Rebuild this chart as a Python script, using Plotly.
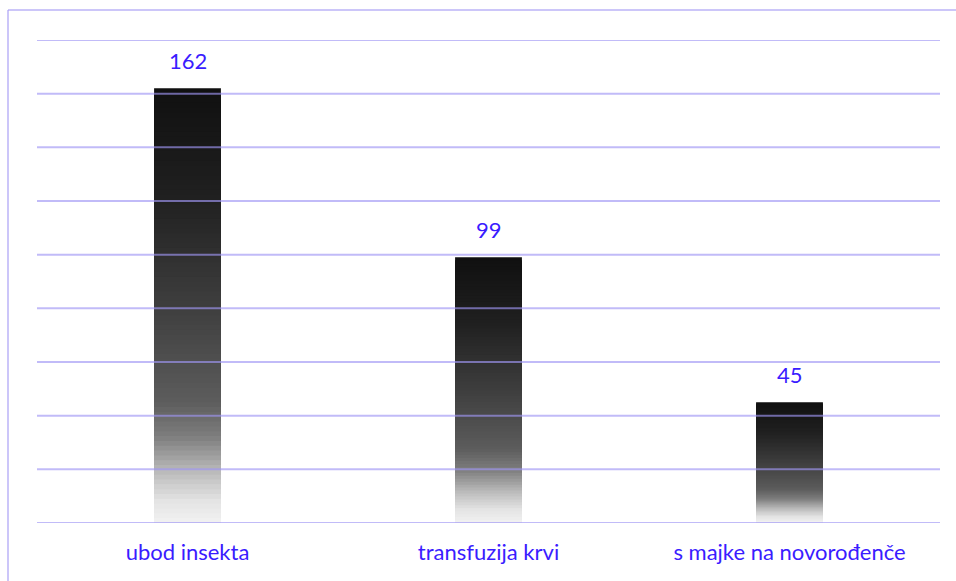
import plotly.graph_objects as go

categories = ["ubod insekta", "transfuzija krvi", "s majke na novorođenče"]
values = [162, 99, 45]
y_ticks = [0, 20, 40, 60, 80, 100, 120, 140, 160, 180]

# gradient stops (fraction from top, gray level)
stops = [(0.0, 16), (0.25, 32), (0.5, 62), (0.72, 92), (0.8, 125), (0.88, 185), (0.95, 228), (1.0, 242)]

def gray_at(f):
    for (f0, g0), (f1, g1) in zip(stops[:-1], stops[1:]):
        if f0 <= f <= f1:
            t = (f - f0) / (f1 - f0) if f1 > f0 else 0
            return g0 + (g1 - g0) * t
    return stops[-1][1]

N = 90
fig = go.Figure()
for k in range(N):
    f0 = k / N
    f1 = (k + 1) / N
    g = int(round(gray_at((f0 + f1) / 2)))
    color = f"rgb({g},{g},{g})"
    fig.add_trace(go.Bar(
        x=categories,
        y=[v * (1 - f0) for v in values],
        width=0.222,
        marker=dict(color=color, line=dict(width=0)),
        hoverinfo="skip",
        showlegend=False,
    ))

text_color = "#3a1cff"
for c, v in zip(categories, values):
    fig.add_annotation(x=c, y=v, text=str(v), showarrow=False, yanchor="bottom",
                       yshift=12, font=dict(size=22, color=text_color, family="Lato"))

grid_color = "rgba(160,150,245,0.65)"
for t in y_ticks:
    fig.add_shape(type="line", xref="paper", x0=0, x1=1, yref="y", y0=t, y1=t,
                  line=dict(color=grid_color, width=2), layer="above")

# outer border: only top and left edges are visible in the reference
border_color = "rgba(170,160,245,0.6)"
L, T, PW, PH = 37, 40, 903, 483
bx = (8 - L) / PW
by = 1 + (T - 10) / PH
fig.add_shape(type="line", xref="paper", yref="paper", x0=bx, x1=1.05, y0=by, y1=by,
              line=dict(color=border_color, width=2), layer="below")
fig.add_shape(type="line", xref="paper", yref="paper", x0=bx, x1=bx, y0=by, y1=-0.15,
              line=dict(color=border_color, width=2), layer="below")

fig.update_layout(
    width=956, height=581,
    margin=dict(l=L, r=956 - L - PW, t=T, b=581 - T - PH),
    paper_bgcolor="white", plot_bgcolor="white",
    barmode="overlay",
    hovermode=False,
    xaxis=dict(showgrid=False, showline=False, ticks="", zeroline=False,
               ticklabelstandoff=14,
               tickfont=dict(size=22, color=text_color, family="Lato")),
    yaxis=dict(range=[0, 180], showgrid=False, zeroline=False, showticklabels=False,
               showline=False, ticks="", tickvals=y_ticks),
)

fig.write_html("out.html", config={"displayModeBar": False},
               post_script="document.body.style.margin='0';document.body.style.overflow='hidden';")
